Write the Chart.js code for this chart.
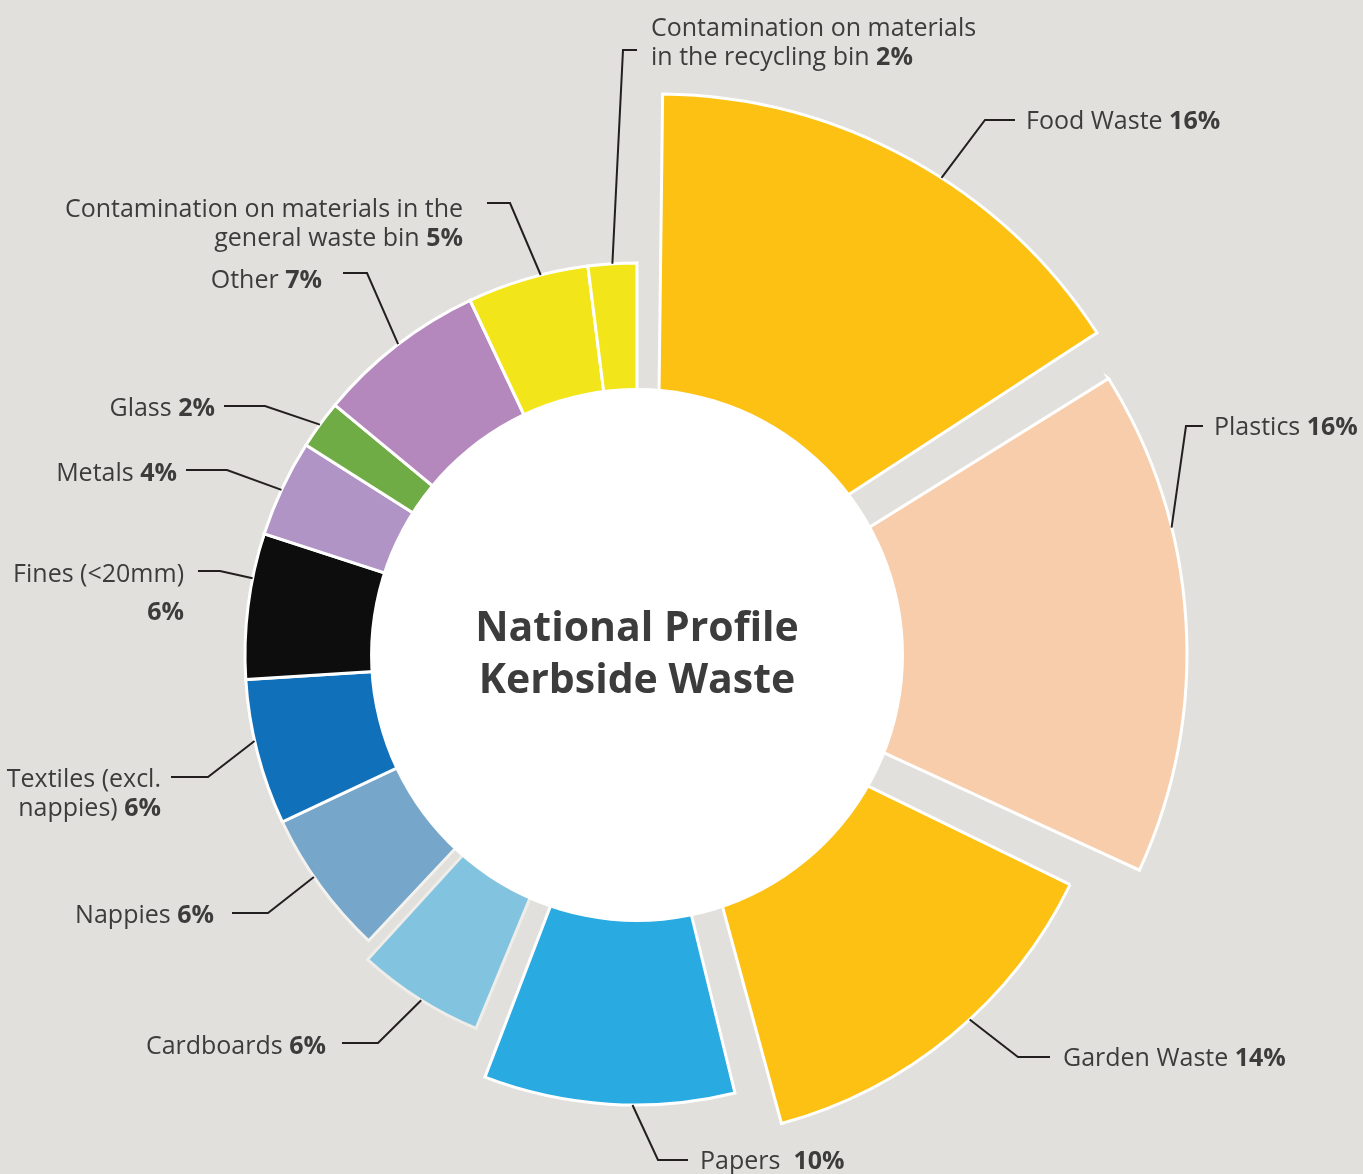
<!DOCTYPE html>
<html>
<head>
<meta charset="utf-8">
<script src="https://cdn.jsdelivr.net/npm/chart.js@4.4.0/dist/chart.umd.min.js"></script>
<style>
  html, body { margin: 0; padding: 0; background: #e1e0dc; }
  canvas { display: block; }
</style>
</head>
<body>
<canvas id="wasteChart" width="1363" height="1174"></canvas>
<script>
// clockwise from 12 o'clock
const categories = [
  'Food Waste', 'Plastics', 'Garden Waste', 'Papers', 'Cardboards', 'Nappies',
  'Textiles (excl. nappies)', 'Fines (<20mm)', 'Metals', 'Glass', 'Other',
  'Contamination on materials in the general waste bin',
  'Contamination on materials in the recycling bin',
];
const shares = [16, 16, 14, 10, 6, 6, 6, 6, 4, 2, 7, 5, 2];
// how far each slice reaches out (100 = the common ring)
const reach = [124, 125, 105.5, 99.5, 86, 100, 100, 100, 100, 100, 100, 100, 100];
const labelLines = [
  ['Food Waste'], ['Plastics'], ['Garden Waste'], ['Papers '], ['Cardboards'], ['Nappies'],
  ['Textiles (excl.', 'nappies)'], ['Fines (<20mm)', ''], ['Metals'], ['Glass'], ['Other'],
  ['Contamination on materials in the', 'general waste bin'],
  ['Contamination on materials', 'in the recycling bin'],
];

const colors = ['#fcc112', '#f8cdab', '#fcc112', '#29abe2', '#82c4e0', '#76a6ca',
  '#1170ba', '#0d0d0d', '#b094c6', '#6fac46', '#b588bd', '#f2e61b', '#f2e61b'];
const borders = ['#fff', '#fff', '#fff', '#fff', '#eeede9', '#f3f2ef',
  '#fff', '#fff', '#fff', '#fff', '#fff', '#fff', '#fff'];
const explode = [160, 120, 160, 120, 140, 0, 0, 0, 0, 0, 0, 0, 0];
const holeReach = 68.1;

// callout layout, px relative to the centre: anchor fraction along slice, elbow, end, text
const callouts = [
  { t: 0.57, elbow: [348, -535], end: [378, -535], text: [389, -535], align: 'left' },
  { t: 0.32, elbow: [549, -229], end: [566, -229], text: [577, -229], align: 'left' },
  { t: 0.44, elbow: [381, 402], end: [413, 402], text: [426, 402], align: 'left' },
  { t: 0.41, elbow: [21, 505], end: [51, 505], text: [63, 505], align: 'left' },
  { t: 0.48, elbow: [-259, 388], end: [-295, 388], text: [-311, 390], align: 'right' },
  { t: 0.57, elbow: [-369, 258], end: [-405, 258], text: [-423, 259], align: 'right' },
  { t: 0.58, elbow: [-429, 122], end: [-466, 122], text: [-476, 123], align: 'right' },
  { t: 0.69, elbow: [-417, -84], end: [-439, -84], text: [-453, -82], align: 'right', gap: 38 },
  { t: 0.48, elbow: [-410, -185], end: [-451, -185], text: [-460, -183], align: 'right' },
  { t: 0.5, elbow: [-372, -249], end: [-413, -249], text: [-422, -248], align: 'right' },
  { t: 0.51, elbow: [-270, -382], end: [-294, -382], text: [-315, -376], align: 'right' },
  { t: 0.61, elbow: [-127, -452], end: [-150, -452], text: [-174, -447], align: 'right' },
  { t: 0.5, elbow: [-14, -605], end: [0, -605], text: [14, -628], align: 'left' },
];

const TEXT = '#3c3c3c';
const FONT = '"Open Sans", sans-serif';

function drawLine(ctx, x, y, plain, bold, align) {
  const sep = plain && bold ? ' ' : '';
  ctx.font = `25px ${FONT}`;
  const wPlain = ctx.measureText(plain + sep).width;
  ctx.font = `bold 25px ${FONT}`;
  const wBold = bold ? ctx.measureText(bold).width : 0;
  const left = align === 'right' ? x - wPlain - wBold : x;
  ctx.textAlign = 'left';
  ctx.textBaseline = 'alphabetic';
  ctx.font = `25px ${FONT}`;
  ctx.fillText(plain + sep, left, y);
  ctx.font = `bold 25px ${FONT}`;
  if (bold) ctx.fillText(bold, left + wPlain, y);
}

const calloutPlugin = {
  id: 'callouts',
  afterDatasetsDraw(chart) {
    const ctx = chart.ctx;
    const meta = chart.getDatasetMeta(0);
    const scale = chart.scales.r;
    const cx = meta.data[0].x;
    const cy = meta.data[0].y;

    ctx.save();
    // white hole
    ctx.fillStyle = '#fff';
    ctx.beginPath();
    ctx.arc(cx, cy, scale.getDistanceFromCenterForValue(holeReach), 0, Math.PI * 2);
    ctx.fill();

    // centre title
    ctx.fillStyle = TEXT;
    ctx.font = `bold 41px ${FONT}`;
    ctx.textAlign = 'center';
    ctx.textBaseline = 'alphabetic';
    ctx.fillText('National Profile', cx, cy - 14);
    ctx.fillText('Kerbside Waste', cx, cy + 38);

    meta.data.forEach((arc, i) => {
      const c = callouts[i];
      const off = (arc.options.offset || 0) / 4;
      const a = arc.startAngle + c.t * (arc.endAngle - arc.startAngle);
      const mid = (arc.startAngle + arc.endAngle) / 2;
      const r = arc.outerRadius + off;
      const px = arc.x + Math.cos(mid) * off + Math.cos(a) * r;
      const py = arc.y + Math.sin(mid) * off + Math.sin(a) * r;

      ctx.strokeStyle = '#231f20';
      ctx.lineWidth = 2;
      ctx.lineJoin = 'miter';
      ctx.beginPath();
      ctx.moveTo(px, py);
      ctx.lineTo(cx + c.elbow[0], cy + c.elbow[1]);
      ctx.lineTo(cx + c.end[0], cy + c.end[1]);
      ctx.stroke();

      ctx.fillStyle = TEXT;
      const lines = labelLines[i];
      const gap = c.gap || 28.5;
      lines.forEach((ln, k) => {
        const last = k === lines.length - 1;
        drawLine(ctx, cx + c.text[0], cy + c.text[1] + 9 + k * gap, ln, last ? shares[i] + '%' : '', c.align);
      });
    });
    ctx.restore();
  },
};

const ctx = document.getElementById('wasteChart').getContext('2d');
new Chart(ctx, {
  type: 'polarArea',
  data: {
    labels: categories,
    datasets: [{
      data: reach,
      angle: shares.map((s) => s * 3.6),
      offset: explode,
      backgroundColor: colors,
      borderColor: borders,
      borderWidth: 3,
      borderJoinStyle: 'miter',
      clip: false,
    }],
  },
  options: {
    responsive: false,
    animation: false,
    events: [],
    layout: { padding: { left: 118, right: 207, top: 136, bottom: 0 } },
    plugins: {
      legend: { display: false },
      tooltip: { enabled: false },
    },
    scales: {
      r: { display: false, min: 0, max: 132.4, startAngle: 0 },
    },
  },
  plugins: [calloutPlugin],
});
</script>
</body>
</html>
